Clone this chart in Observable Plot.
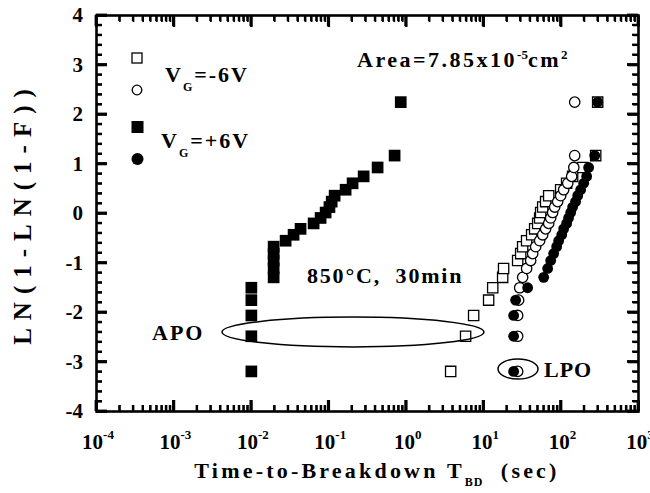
<!DOCTYPE html>
<html><head><meta charset="utf-8">
<script src="https://cdn.jsdelivr.net/npm/d3@7"></script>
<script src="https://cdn.jsdelivr.net/npm/@observablehq/plot@0.6"></script>
<style>
body{margin:0;background:#fff;}
#chart{position:absolute;left:0;top:0;}
</style></head><body><div id="chart"></div>
<script>
// ---- data ----
const yTicks = [-4,-3,-2,-1,0,1,2,3,4];
const yMinor = [-3.8,-3.6,-3.4,-3.2,-2.8,-2.6,-2.4,-2.2,-1.8,-1.6,-1.4,-1.2,-0.8,-0.6,-0.4,-0.2,0.2,0.4,0.6,0.8,1.2,1.4,1.6,1.8,2.2,2.4,2.6,2.8,3.2,3.4,3.6,3.8];
const xDecades = [1e-4,1e-3,1e-2,1e-1,1,10,100,1000];
const xExponents = ["-4","-3","-2","-1","0","1","2","3"];
const xMinorMult = [2,3,4,5,6,7,8,9];
// Weibull plotting positions ln(-ln(1-F)), shared by the four samples
const weibullY = [-3.19,-2.48,-2.06,-1.75,-1.50,-1.29,-1.11,-0.95,-0.81,-0.67,-0.55,-0.43,-0.31,-0.20,-0.09,0.02,0.13,0.24,0.36,0.48,0.61,0.75,0.93,1.17,2.25];
// time-to-breakdown (sec)
const apoMinusT = [3.75,5.85,7.43,11.6,13.1,17.6,18.1,27.5,30.1,31.9,35.9,41.7,45.6,49.9,52.9,54.5,57.9,63.2,69.2,98.8,118,141,190,280,297];
const lpoMinusT = [27.5,27.5,27.5,28.3,29.2,31.9,35.9,40.5,43.0,47.0,52.9,57.9,63.2,69.2,73.4,77.9,82.7,90.4,98.8,108,122,137,146,150,150];
const apoPlusT  = [0.01,0.01,0.01,0.01,0.01,0.0194,0.0194,0.0194,0.0194,0.0194,0.0277,0.0351,0.0432,0.0637,0.0784,0.091,0.102,0.109,0.119,0.165,0.203,0.282,0.427,0.708,0.85];
const lpoPlusT  = [24.4,24.4,24.4,25.9,37.0,59.6,67.1,73.4,80.2,87.7,93.1,102,108,118,125,133,141,154,164,179,196,214,227,272,297];

const toRows = ts => ts.map((t,i) => ({t, y: weibullY[i]}));
const xMinor = xDecades.slice(0,-1).flatMap(d => xMinorMult.map(m => d*m));

const FONT = "'Liberation Serif','Times New Roman',serif";
const W = 650, H = 493, mL = 96, mR = 12, mT = 15, mB = 82;
const noText = () => "";

const plot = Plot.plot({
  width: W, height: H,
  marginLeft: mL, marginRight: mR, marginTop: mT, marginBottom: mB,
  style: {fontFamily: FONT, background: "white", color: "black"},
  x: {type: "log", domain: [1e-4, 1e3]},
  y: {domain: [-4, 4]},
  marks: [
    // Plot's own axis marks, with ticks pointing inward on all four sides
    Plot.axisX(xMinor, {anchor: "bottom", tickSize: -6, strokeWidth: 1.8, tickFormat: noText, label: null}),
    Plot.axisX(xMinor, {anchor: "top", tickSize: -6, strokeWidth: 1.8, tickFormat: noText, label: null}),
    Plot.axisX(xDecades, {anchor: "bottom", tickSize: -11, strokeWidth: 2.6, tickFormat: noText, label: null}),
    Plot.axisX(xDecades, {anchor: "top", tickSize: -11, strokeWidth: 2.6, tickFormat: noText, label: null}),
    Plot.axisY(yMinor, {anchor: "left", tickSize: -6, strokeWidth: 1.8, tickFormat: noText, label: null}),
    Plot.axisY(yMinor, {anchor: "right", tickSize: -6, strokeWidth: 1.8, tickFormat: noText, label: null}),
    Plot.axisY(yTicks, {anchor: "left", tickSize: -11, strokeWidth: 2.6, tickFormat: noText, label: null}),
    Plot.axisY(yTicks, {anchor: "right", tickSize: -11, strokeWidth: 2.6, tickFormat: noText, label: null}),
    Plot.frame({stroke: "black", fill: "none", strokeWidth: 2.6}),
    Plot.dot(toRows(apoMinusT), {x: "t", y: "y", symbol: "square", r: 5.8, fill: "white", stroke: "black", strokeWidth: 1.3}),
    Plot.dot(toRows(lpoMinusT), {x: "t", y: "y", symbol: "circle", r: 5.2, fill: "white", stroke: "black", strokeWidth: 1.3}),
    Plot.dot(toRows(apoPlusT), {x: "t", y: "y", symbol: "square", r: 6.6, fill: "black", stroke: "none"}),
    Plot.dot(toRows(lpoPlusT), {x: "t", y: "y", symbol: "circle", r: 5.4, fill: "black", stroke: "none"})
  ]
});
document.getElementById("chart").appendChild(plot);

const svg = d3.select(plot);
const sx = plot.scale("x"), sy = plot.scale("y");
const x0 = sx.apply(1e-4), x1 = sx.apply(1e3), y0 = sy.apply(-4), y1 = sy.apply(4);

// backup inward ticks as thin filled rects, positioned by the plot's scales
const tk = svg.append("g");
function xTick(v, L, w) {
  const px = sx.apply(v);
  tk.append("rect").attr("fill", "black").attr("x", px - w/2).attr("y", y0 - L).attr("width", w).attr("height", L);
  tk.append("rect").attr("fill", "black").attr("x", px - w/2).attr("y", y1).attr("width", w).attr("height", L);
}
function yTick(v, L, w) {
  const py = sy.apply(v);
  tk.append("rect").attr("fill", "black").attr("x", x0).attr("y", py - w/2).attr("width", L).attr("height", w);
  tk.append("rect").attr("fill", "black").attr("x", x1 - L).attr("y", py - w/2).attr("width", L).attr("height", w);
}
xMinor.forEach(v => xTick(v, 6, 2.2));
xDecades.forEach(v => xTick(v, 11, 2.8));
yMinor.forEach(v => yTick(v, 6, 2.2));
yTicks.forEach(v => yTick(v, 11, 2.8));

const g = svg.append("g").attr("font-family", FONT).attr("font-weight", "bold")
  .attr("fill", "black").attr("text-anchor", "start");

// y tick labels
yTicks.forEach(v => {
  g.append("text").attr("x", x0 - 13).attr("y", sy.apply(v))
    .attr("text-anchor", "end").attr("dominant-baseline", "central")
    .attr("font-size", 21).text(String(v));
});
// x tick labels 10^n
xDecades.forEach((d, i) => {
  const t = g.append("text").attr("x", sx.apply(d) + 2).attr("y", y0 + 38)
    .attr("text-anchor", "middle").attr("font-size", 21);
  t.append("tspan").text("10");
  t.append("tspan").attr("dy", -10).attr("font-size", 13).text(xExponents[i]);
});
// axis titles
const xt = g.append("text").attr("x", 377).attr("y", 478).attr("text-anchor", "middle")
  .attr("font-size", 22).attr("letter-spacing", 3.2);
xt.append("tspan").text("Time-to-Breakdown T");
xt.append("tspan").attr("dy", 8).attr("font-size", 12).attr("letter-spacing", 1).text("BD");
xt.append("tspan").attr("dy", -8).text("\u00a0\u00a0(sec)");

g.append("text").attr("transform", "translate(31,213) rotate(-90)")
  .attr("text-anchor", "middle").attr("font-size", 25).attr("letter-spacing", 8)
  .text("LN(1-LN(1-F))");

// legend
const leg = g.append("g");
leg.append("rect").attr("x", 132).attr("y", 53).attr("width", 10).attr("height", 10).attr("fill", "white").attr("stroke", "black").attr("stroke-width", 1.3);
leg.append("circle").attr("cx", 137).attr("cy", 90).attr("r", 4.8).attr("fill", "white").attr("stroke", "black").attr("stroke-width", 1.3);
leg.append("rect").attr("x", 131.5).attr("y", 121).attr("width", 12).attr("height", 12).attr("fill", "black");
leg.append("circle").attr("cx", 137.5).attr("cy", 159).attr("r", 6).attr("fill", "black");
function vg(x, y, rest) {
  const t = g.append("text").attr("x", x).attr("y", y).attr("font-size", 22).attr("letter-spacing", 2);
  t.append("tspan").text("V");
  t.append("tspan").attr("dy", 9).attr("font-size", 12).text("G");
  t.append("tspan").attr("dy", -9).text(rest);
}
vg(165, 82, "=-6V");
vg(161, 148, "=+6V");

// area annotation
const ar = g.append("text").attr("x", 357).attr("y", 67).attr("font-size", 22).attr("letter-spacing", 2.5);
ar.append("tspan").text("Area=7.85x10");
ar.append("tspan").attr("dy", -8).attr("font-size", 13).attr("letter-spacing", 0).text("-5");
ar.append("tspan").attr("dy", 8).text("cm");
ar.append("tspan").attr("dy", -8).attr("font-size", 13).text("2");

g.append("text").attr("x", 307).attr("y", 283).attr("font-size", 22).attr("letter-spacing", 1.8)
  .style("white-space", "pre").text("850°C,  30min");

// APO / LPO
g.append("text").attr("x", 152).attr("y", 340).attr("font-size", 22).attr("letter-spacing", 2).text("APO");
svg.append("ellipse").attr("cx", 353).attr("cy", 332).attr("rx", 131).attr("ry", 15)
  .attr("fill", "none").attr("stroke", "black").attr("stroke-width", 1.5);
svg.append("ellipse").attr("cx", 518).attr("cy", 369).attr("rx", 20).attr("ry", 10)
  .attr("fill", "none").attr("stroke", "black").attr("stroke-width", 1.5);
g.append("text").attr("x", 544).attr("y", 377).attr("font-size", 22).attr("letter-spacing", 1).text("LPO");
</script>
</body></html>
